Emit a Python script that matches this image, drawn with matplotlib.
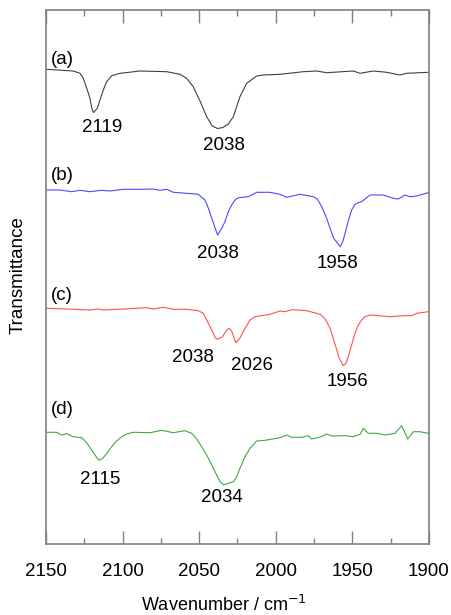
import matplotlib.pyplot as plt
from matplotlib.ticker import MultipleLocator

plt.rcParams['font.family'] = ['Liberation Sans', 'DejaVu Sans']

# IR spectra, transmittance in arbitrary units (curves already offset)
wn_a = [2149.5, 2132.2, 2127.8, 2125.7, 2123.4, 2121.3, 2120.2, 2119.0, 2116.5, 2114.8,
        2112.6, 2110.4, 2107.1, 2101.6, 2088.6, 2071.2, 2062.5, 2058.2, 2053.9, 2049.5,
        2045.1, 2041.5, 2038.0, 2034.5, 2031.0, 2027.7, 2023.4, 2019.0, 2012.5, 2008.2,
        1997.3, 1982.0, 1973.3, 1966.8, 1949.4, 1945.0, 1936.4, 1927.6, 1918.9, 1914.6, 1900.5]
t_a = [474.7, 473.0, 470.7, 465.7, 455.7, 445.7, 436.3, 431.5, 435.7, 444.0,
       454.0, 462.3, 468.3, 470.7, 473.0, 472.3, 469.7, 465.7, 457.3, 443.0,
       427.3, 418.0, 415.5, 416.5, 420.0, 427.3, 447.3, 460.7, 468.0, 469.0,
       469.7, 472.3, 473.0, 471.3, 473.0, 470.7, 473.0, 471.7, 469.0, 470.7, 471.7]

wn_b = [2149.5, 2140.9, 2133.2, 2127.8, 2121.3, 2113.6, 2108.2, 2099.5, 2088.6, 2080.0,
        2075.6, 2071.2, 2066.9, 2058.2, 2050.6, 2046.2, 2044.0, 2041.8, 2039.7, 2038.0,
        2035.3, 2033.2, 2031.0, 2028.8, 2026.6, 2024.5, 2017.9, 2012.5, 2003.8, 1997.3,
        1992.9, 1984.2, 1975.5, 1972.9, 1970.0, 1966.8, 1964.6, 1962.2, 1958.0, 1956.3,
        1954.5, 1952.5, 1950.5, 1948.3, 1946.0, 1944.0, 1938.5, 1929.8, 1923.3, 1920.0,
        1915.7, 1912.4, 1908.0, 1900.5]
t_b = [354.0, 354.0, 352.3, 353.7, 352.3, 353.7, 353.0, 354.7, 354.7, 355.0,
       353.7, 354.7, 351.7, 350.7, 349.7, 344.0, 335.7, 325.7, 316.3, 309.0,
       315.7, 322.3, 332.3, 339.0, 344.0, 346.3, 347.3, 351.7, 351.7, 349.7,
       346.7, 349.7, 347.3, 345.0, 337.3, 325.7, 315.7, 305.7, 297.3, 302.3,
       312.3, 324.0, 334.0, 339.7, 341.5, 342.3, 349.0, 349.0, 345.7, 345.0,
       349.0, 347.3, 348.0, 351.3]

wn_c = [2149.5, 2136.5, 2121.3, 2115.9, 2112.6, 2099.5, 2084.3, 2080.0, 2073.4, 2066.9,
        2058.2, 2050.6, 2047.3, 2045.1, 2041.8, 2039.5, 2038.0, 2034.7, 2032.0, 2030.5,
        2028.8, 2027.4, 2026.0, 2023.5, 2020.1, 2016.8, 2013.6, 2003.8, 1997.3, 1994.0,
        1989.6, 1979.8, 1971.1, 1968.5, 1966.8, 1964.6, 1962.5, 1960.2, 1958.6, 1956.0,
        1954.2, 1952.7, 1950.5, 1948.3, 1946.1, 1944.0, 1941.8, 1938.5, 1925.5, 1916.8,
        1911.3, 1908.0, 1900.5]
t_c = [235.7, 235.0, 234.0, 235.0, 234.0, 235.0, 236.3, 235.0, 236.7, 234.7,
       234.7, 233.3, 230.7, 224.0, 214.0, 206.3, 204.7, 207.3, 214.0, 215.7,
       213.0, 206.5, 201.3, 205.7, 215.7, 224.0, 227.3, 229.7, 233.0, 232.3,
       234.3, 233.3, 229.7, 226.3, 222.3, 215.7, 205.7, 194.0, 185.7, 178.3,
       180.7, 187.3, 199.0, 210.7, 219.0, 224.0, 227.3, 229.0, 227.3, 228.3,
       228.3, 230.7, 232.3]

wn_d = [2149.5, 2143.0, 2139.8, 2136.5, 2132.2, 2126.7, 2124.5, 2122.4, 2120.2, 2118.0,
        2116.3, 2115.0, 2113.0, 2111.5, 2109.3, 2107.1, 2103.9, 2100.6, 2097.3, 2093.0,
        2082.1, 2074.5, 2066.9, 2059.3, 2054.9, 2051.6, 2048.4, 2045.1, 2041.8, 2038.6,
        2036.4, 2034.0, 2031.0, 2027.7, 2025.5, 2023.4, 2020.1, 2016.8, 2012.5, 2007.0,
        1997.3, 1992.9, 1989.6, 1983.1, 1978.8, 1976.6, 1971.1, 1966.8, 1963.5, 1954.8,
        1949.4, 1945.0, 1942.9, 1939.6, 1934.1, 1928.7, 1922.2, 1917.8, 1913.9, 1910.2,
        1905.9, 1900.5]
t_d = [111.7, 111.7, 109.0, 110.3, 107.3, 106.3, 103.0, 99.0, 94.0, 89.0,
       85.0, 84.0, 85.7, 88.3, 93.0, 97.3, 103.0, 107.3, 110.0, 111.7,
       111.3, 113.7, 111.3, 113.3, 110.7, 105.0, 97.3, 89.0, 79.0, 69.0,
       62.3, 59.0, 60.7, 62.3, 67.3, 75.7, 87.3, 95.7, 103.0, 103.7,
       106.3, 109.0, 106.7, 106.7, 108.3, 105.0, 107.0, 110.0, 108.0, 108.3,
       107.3, 109.7, 115.7, 110.7, 110.7, 109.0, 110.7, 118.3, 105.0, 112.3,
       112.3, 110.7]

# curve tags and peak annotations
tags = ['(a)', '(b)', '(c)', '(d)']
tag_y = [484, 369, 249, 134]
peak_labels = ['2119', '2038', '2038', '1958', '2038', '2026', '1956', '2115', '2034']
peak_x = [2113.4, 2033.8, 2037.7, 1959.4, 2054.0, 2015.5, 1952.9, 2114.8, 2035.1]
peak_y = [416, 399, 291, 280, 187, 179, 162, 64, 46]

fig = plt.figure(figsize=(4.51, 6.15), dpi=100)
ax = fig.add_axes([46 / 451, 1 - 544 / 615, 383 / 451, 534 / 615])

ax.plot(wn_a, t_a, color='#404040', lw=0.8)
ax.plot(wn_b, t_b, color='#4a4aff', lw=0.8)
ax.plot(wn_c, t_c, color='#ff5050', lw=0.8)
ax.plot(wn_d, t_d, color='#40a840', lw=0.8)

ax.set_xlim(2150, 1900)
ax.set_ylim(0, 534)

fs = 13.5
for s, y in zip(tags, tag_y):
    ax.text(2146.7, y, s, fontsize=fs, ha='left', va='center')
for s, x, y in zip(peak_labels, peak_x, peak_y):
    ax.text(x, y, s, fontsize=fs, ha='center', va='center')

grey = '#808080'
for sp in ax.spines.values():
    sp.set_color(grey)
    sp.set_linewidth(1.2)
ax.xaxis.set_major_locator(MultipleLocator(50))
ax.xaxis.set_minor_locator(MultipleLocator(25))
ax.tick_params(axis='x', which='both', direction='in', top=True, bottom=True,
               color=grey, width=1.0, labelsize=fs, pad=14)
ax.tick_params(axis='x', which='major', length=9.5)
ax.tick_params(axis='x', which='minor', length=4.5)
ax.set_yticks([])

fig.text(224 / 451, 1 - 605 / 615, 'Wavenumber / cm$^{-1}$', fontsize=13,
         ha='center', va='center')
fig.text(18 / 451, 1 - 275 / 615, 'Transmittance', fontsize=fs,
         ha='center', va='center', rotation=90)

fig.savefig('out.png', dpi=100)
